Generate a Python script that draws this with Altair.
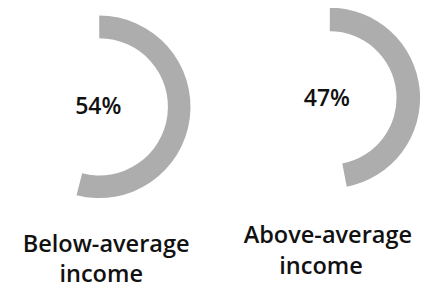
import math
import altair as alt
import pandas as pd

groups = ["Below-average income", "Above-average income"]
pct = [54, 47]
pct_labels = ["54%", "47%"]
line1 = ["Below-average", "Above-average"]
line2 = ["income", "income"]

df = pd.DataFrame({"group": groups, "pct": pct, "label": pct_labels,
                   "line1": line1, "line2": line2})

theta_scale = alt.Scale(domain=[0, 100], range=[0, 2 * math.pi])
FONT = "Open Sans"
GREY = "#adadad"

# per-panel geometry (pixels inside the chart)
geo = [
    dict(cx=93, cy=98, r=93, r2=70, lx=92, ly=98, t1x=100, t1y=246, t2x=95, t2y=277),
    dict(cx=328, cy=89, r=92, r2=68, lx=325, ly=90, t1x=326, t1y=237, t2x=319, t2y=268),
]

layers = []
base = alt.Chart(df)
for g, p in zip(groups, geo):
    sub = base.transform_filter(alt.datum.group == g)
    arc = sub.mark_arc(radius=p["r"], radius2=p["r2"], color=GREY).encode(
        theta=alt.Theta("pct:Q", scale=theta_scale, stack=True),
        x=alt.value(p["cx"]), y=alt.value(p["cy"]),
    )
    lab = sub.mark_text(font=FONT, fontSize=23.5, fontWeight=600, color="#111111",
                        align="center", baseline="middle").encode(
        text="label:N", x=alt.value(p["lx"]), y=alt.value(p["ly"]))
    t1 = sub.mark_text(font=FONT, fontSize=24, fontWeight=600, color="#111111",
                       align="center", baseline="alphabetic").encode(
        text="line1:N", x=alt.value(p["t1x"]), y=alt.value(p["t1y"]))
    t2 = sub.mark_text(font=FONT, fontSize=24, fontWeight=600, color="#111111",
                       align="center", baseline="alphabetic").encode(
        text="line2:N", x=alt.value(p["t2x"]), y=alt.value(p["t2y"]))
    layers += [arc, lab, t1, t2]

chart = alt.layer(*layers).properties(
    width=424, height=282, padding=0, autosize=alt.AutoSizeParams(type="none")
).configure_view(stroke=None)

chart.save("out.html", embed_options={"renderer": "svg", "actions": False})
